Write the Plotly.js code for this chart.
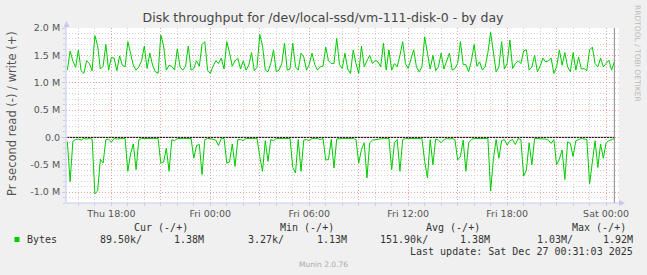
<!DOCTYPE html>
<html><head><meta charset="utf-8">
<script src="https://cdn.plot.ly/plotly-3.0.1.min.js"></script>
<style>html,body{margin:0;padding:0;background:#f0f0f0;overflow:hidden}#chart{width:647px;height:275px}</style>
</head><body><div id="chart"></div>
<script>
// 10-minute samples, start Thu 2025-12-25 15:20
const startUTC = Date.UTC(2025, 11, 25, 15, 20);
const stepMinutes = 10;
// write (+), MB/s
const writeM = [
 1.23,1.58,1.40,1.28,1.60,1.22,1.17,1.40,1.35,1.22,
 1.86,1.68,1.25,1.30,1.70,1.23,1.46,1.45,1.22,1.49,
 1.32,1.29,1.75,1.54,1.32,1.23,1.29,1.40,1.67,1.26,
 1.54,1.32,1.20,1.17,1.87,1.68,1.23,1.32,1.30,1.23,
 1.62,1.29,1.23,1.30,1.67,1.23,1.26,1.40,1.30,1.70,
 1.75,1.23,1.17,1.30,1.40,1.35,1.45,1.25,1.75,1.55,
 1.30,1.40,1.45,1.25,1.40,1.23,1.32,1.55,1.22,1.28,
 1.88,1.68,1.23,1.20,1.35,1.60,1.20,1.23,1.35,1.72,
 1.23,1.25,1.72,1.29,1.23,1.54,1.47,1.23,1.33,1.54,
 1.33,1.23,1.29,1.30,1.65,1.40,1.35,1.35,1.81,1.33,
 1.26,1.54,1.25,1.17,1.60,1.35,1.17,1.67,1.29,1.40,
 1.50,1.35,1.41,1.38,1.29,1.72,1.23,1.60,1.23,1.35,
 1.29,1.50,1.75,1.35,1.26,1.43,1.60,1.29,1.20,1.29,
 1.84,1.54,1.25,1.50,1.22,1.29,1.54,1.25,1.40,1.54,
 1.23,1.26,1.35,1.75,1.33,1.33,1.20,1.40,1.70,1.30,
 1.38,1.23,1.29,1.55,1.92,1.60,1.20,1.29,1.75,1.25,
 1.35,1.78,1.26,1.35,1.40,1.35,1.58,1.60,1.23,1.29,
 1.50,1.20,1.30,1.45,1.38,1.40,1.45,1.17,1.29,1.60,
 1.32,1.55,1.29,1.20,1.55,1.23,1.47,1.25,1.26,1.22,
 1.60,1.65,1.35,1.29,1.45,1.29,1.35,1.41,1.23,1.38];
// read (-), MB/s
const readM = [
 -0.08,-0.81,-0.07,-0.04,-0.03,-0.05,-0.02,-0.03,-0.02,-0.03,
 -1.03,-0.98,-0.40,-0.47,-0.04,-0.03,-0.09,-0.02,-0.03,-0.02,
 -0.02,-0.02,-0.62,-0.30,-0.12,-0.59,-0.04,-0.02,-0.02,-0.02,
 -0.02,-0.02,-0.02,-0.02,-0.47,-0.45,-0.20,-0.62,-0.04,-0.06,
 -0.02,-0.02,-0.02,-0.02,-0.02,-0.02,-0.38,-0.15,-0.13,-0.68,
 -0.04,-0.02,-0.02,-0.03,-0.05,-0.15,-0.02,-0.02,-0.47,-0.45,
 -0.12,-0.53,-0.04,-0.04,-0.06,-0.02,-0.02,-0.02,-0.02,-0.02,
 -0.35,-0.62,-0.06,-0.44,-0.04,-0.06,-0.02,-0.02,-0.02,-0.02,
 -0.02,-0.02,-0.55,-0.65,-0.04,-0.62,-0.05,-0.04,-0.06,-0.02,
 -0.02,-0.02,-0.04,-0.02,-0.41,-0.41,-0.04,-0.56,-0.03,-0.02,
 -0.02,-0.02,-0.02,-0.02,-0.02,-0.04,-0.47,-0.22,-0.10,-0.74,
 -0.10,-0.05,-0.04,-0.04,-0.02,-0.02,-0.02,-0.02,-0.59,-0.10,
 -0.04,-0.62,-0.04,-0.02,-0.02,-0.02,-0.02,-0.02,-0.02,-0.02,
 -0.44,-0.74,-0.04,-0.50,-0.03,-0.05,-0.10,-0.04,-0.02,-0.03,
 -0.02,-0.04,-0.41,-0.35,-0.05,-0.62,-0.10,-0.04,-0.02,-0.02,
 -0.02,-0.02,-0.02,-0.02,-0.98,-0.40,-0.04,-0.38,-0.06,-0.04,
 -0.14,-0.06,-0.04,-0.13,-0.02,-0.04,-0.71,-0.60,-0.10,-0.50,
 -0.02,-0.02,-0.02,-0.02,-0.03,-0.05,-0.11,-0.04,-0.50,-0.40,
 -0.23,-0.77,-0.08,-0.11,-0.35,-0.06,-0.04,-0.02,-0.03,-0.04,
 -0.85,-0.50,-0.06,-0.55,-0.12,-0.38,-0.10,-0.06,-0.04,-0.02];

const xTickVals = ['2025-12-25 18:00','2025-12-25 21:00','2025-12-26 00:00','2025-12-26 03:00',
 '2025-12-26 06:00','2025-12-26 09:00','2025-12-26 12:00','2025-12-26 15:00',
 '2025-12-26 18:00','2025-12-26 21:00','2025-12-27 00:00'];
const xTickText = ['Thu 18:00','','Fri 00:00','','Fri 06:00','','Fri 12:00','','Fri 18:00','','Sat 00:00'];
const yTickVals = [-1.0,-0.5,0,0.5,1.0,1.5,2.0];
const yTickText = ['-1.0 M','-0.5 M','0.0','0.5 M','1.0 M','1.5 M','2.0 M'];
const xRange = ['2025-12-25 15:15','2025-12-27 00:47'];
const yRange = [-1.2, 2.0];

const legendHeaders = ['Cur (-/+)','Min (-/+)','Avg (-/+)','Max (-/+)'];
const legendName = 'Bytes';
const readStats = ['89.50k/','3.27k/','151.90k/','1.03M/'];
const writeStats = ['1.38M','1.13M','1.38M','1.92M'];
const lastUpdate = 'Last update: Sat Dec 27 00:31:03 2025';

const times = writeM.map((_, i) => new Date(startUTC + i * stepMinutes * 60000).toISOString());

// layout geometry (page pixels)
const W = 647, H = 275, L = 66, R = 619, T = 28, B = 203;
const px = x => (x - L) / (R - L);
const py = y => (B - y) / (B - T);

const green = '#00cc00';
const axisCol = '#c8c8f0';
const txt = '#555555';

const traces = [
 {x: times, y: writeM, type: 'scatter', mode: 'lines', line: {color: green, width: 1}, hoverinfo: 'skip'},
 {x: times, y: readM, type: 'scatter', mode: 'lines', line: {color: green, width: 1}, hoverinfo: 'skip'}
];

const mono = {family: 'DejaVu Sans Mono', size: 10, color: '#333333'};
const ann = [];
function add(text, x, y, xanchor, font, extra) {
 ann.push(Object.assign({text, x: px(x), y: py(y), xref: 'paper', yref: 'paper', xanchor, yanchor: 'middle', showarrow: false, borderpad: 0, font}, extra || {}));
}
const headerEnds = [189, 335, 480.6, 627];
legendHeaders.forEach((h, i) => add(h, headerEnds[i], 227.5, 'right', mono));
add(legendName, 26, 239.5, 'left', mono);
const readEnds = [142.6, 285, 429, 574];
const writeEnds = [205.4, 348, 491, 633.5];
readStats.forEach((s, i) => add(s, readEnds[i], 239.5, 'right', mono));
writeStats.forEach((s, i) => add(s, writeEnds[i], 239.5, 'right', mono));
add(lastUpdate, 633.5, 251.5, 'right', mono);
add('Munin 2.0.76', 323, 264, 'center', {family: 'DejaVu Sans', size: 7.5, color: '#aaaaaa'});
add('RRDTOOL / TOBI OETIKER', 638, 53, 'center', {family: 'DejaVu Sans', size: 7.5, color: '#bbbbbb'}, {textangle: 90});
add('Pr second read (-) / write (+)', 12, 114, 'center', {family: 'DejaVu Sans', size: 11.5, color: txt}, {textangle: -90});

const P = (x, y) => px(x) + ',' + py(y);
const shapes = [
 {type: 'line', xref: 'x', yref: 'y', x0: times[0], x1: times[times.length - 1], y0: 0, y1: 0, line: {color: '#000000', width: 1}, layer: 'below'},
 {type: 'line', xref: 'x', yref: 'paper', x0: times[times.length - 1], x1: times[times.length - 1], y0: 0, y1: 1, line: {color: '#888888', width: 1}},
 {type: 'rect', xref: 'paper', yref: 'paper', x0: px(14.5), x1: px(19.5), y0: py(242), y1: py(237), fillcolor: green, line: {width: 0}},
 {type: 'line', xref: 'paper', yref: 'paper', x0: 0, x1: 0, y0: 0, y1: py(24), line: {color: axisCol, width: 1}},
 {type: 'line', xref: 'paper', yref: 'paper', x0: 0, x1: px(620), y0: 0, y1: 0, line: {color: axisCol, width: 1}},
 {type: 'path', xref: 'paper', yref: 'paper', path: 'M' + P(63.5, 27) + 'L' + P(69.5, 27) + 'L' + P(66.5, 21) + 'Z', fillcolor: axisCol, line: {width: 0}},
 {type: 'path', xref: 'paper', yref: 'paper', path: 'M' + P(619, 200) + 'L' + P(619, 206) + 'L' + P(625, 203) + 'Z', fillcolor: axisCol, line: {width: 0}}
];

const layout = {
 width: W, height: H,
 margin: {l: L, r: W - R, t: T, b: H - B, pad: 0},
 paper_bgcolor: '#f0f0f0', plot_bgcolor: '#ffffff',
 showlegend: false,
 title: {text: 'Disk throughput for /dev/local-ssd/vm-111-disk-0 - by day', x: 323 / W, xanchor: 'center', xref: 'container', y: 1 - 18 / H, yanchor: 'middle', yref: 'container', font: {family: 'DejaVu Sans', size: 12.5, color: '#444444'}},
 xaxis: {type: 'date', range: xRange, tickmode: 'array', tickvals: xTickVals, ticktext: xTickText,
  showgrid: true, gridcolor: '#f0a0a0', griddash: '1px,2px', gridwidth: 1,
  ticks: 'outside', ticklen: 2, tickcolor: 'rgba(0,0,0,0)', showline: false, zeroline: false,
  tickfont: {family: 'DejaVu Sans', size: 9.5, color: txt},
  minor: {tickmode: 'linear', tick0: '2025-12-25 00:00', dtick: 3600000, showgrid: true, gridcolor: '#d4d4d4', griddash: '1px,2px', gridwidth: 1, ticks: 'outside', ticklen: 2, tickcolor: axisCol}
 },
 yaxis: {range: yRange, tickmode: 'array', tickvals: yTickVals, ticktext: yTickText,
  showgrid: true, gridcolor: '#f0a0a0', griddash: '1px,2px', gridwidth: 1,
  ticks: 'outside', ticklen: 3, tickcolor: axisCol, showline: false, zeroline: false,
  tickfont: {family: 'DejaVu Sans', size: 9.5, color: txt},
  minor: {tickmode: 'linear', tick0: 0, dtick: 0.1, showgrid: true, gridcolor: '#d4d4d4', griddash: '1px,2px', gridwidth: 1, ticks: 'outside', ticklen: 2, tickcolor: axisCol}
 },
 annotations: ann,
 shapes: shapes
};

Plotly.newPlot('chart', traces, layout, {staticPlot: true, displayModeBar: false});
</script></body></html>
